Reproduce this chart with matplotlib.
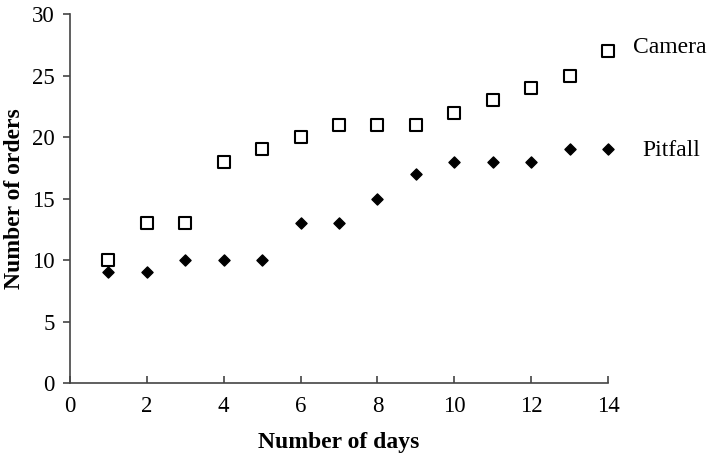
import matplotlib.pyplot as plt

days = list(range(1, 15))
camera = [10, 13, 13, 18, 19, 20, 21, 21, 21, 22, 23, 24, 25, 27]
pitfall = [9, 9, 10, 10, 10, 13, 13, 15, 17, 18, 18, 18, 19, 19]

plt.rcParams['font.family'] = ['Liberation Serif', 'DejaVu Serif']

fig = plt.figure(figsize=(7.09, 4.54), dpi=100)
ax = fig.add_axes([0.0987, 0.156, 0.7588, 0.813])

ax.scatter(days, camera, marker='s', s=70, facecolors='white', edgecolors='black',
           linewidths=1.5, clip_on=False, zorder=3)
ax.scatter(days, pitfall, marker='D', s=32, color='black', clip_on=False, zorder=3)

# labels beside the last points
ax.text(14.64, 27.3, 'Camera', fontsize=17, ha='left', va='center')
ax.text(14.9, 18.9, 'Pitfall', fontsize=17, ha='left', va='center')

ax.set_xlim(0, 14)
ax.set_ylim(0, 30)
ax.set_xticks(range(0, 15, 2))
ax.set_yticks(range(0, 31, 5))
ax.spines['top'].set_visible(False)
ax.spines['right'].set_visible(False)
for s in ['left', 'bottom']:
    ax.spines[s].set_color('#444444')
    ax.spines[s].set_linewidth(1.2)
ax.tick_params(axis='x', direction='in', length=5, width=1.2, color='#444444',
               labelsize=16.5, pad=9)
ax.tick_params(axis='y', direction='out', length=5, width=1.2, color='#444444',
               labelsize=16.5, pad=6)

ax.set_xlabel('Number of days', fontsize=17, fontweight='bold', labelpad=11)
ax.set_ylabel('Number of orders', fontsize=17, fontweight='bold', labelpad=5)

fig.savefig('out.png', dpi=100)
